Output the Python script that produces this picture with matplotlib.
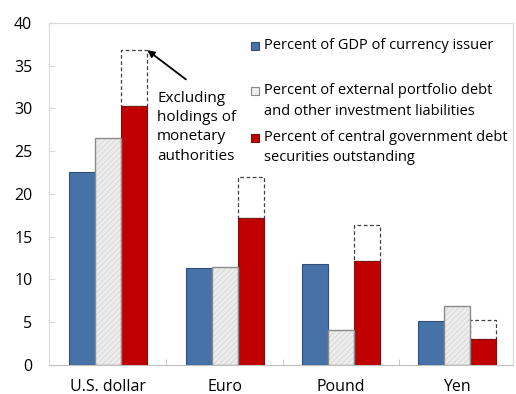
import numpy as np
import matplotlib.pyplot as plt
from matplotlib.patches import Rectangle

plt.rcParams['font.family'] = ['Open Sans', 'DejaVu Sans']
plt.rcParams['hatch.linewidth'] = 0.6

currencies = ['U.S. dollar', 'Euro', 'Pound', 'Yen']
pct_gdp = [22.6, 11.3, 11.8, 5.1]
pct_external = [26.5, 11.4, 4.1, 6.9]
pct_govt = [30.3, 17.2, 12.2, 3.0]
pct_govt_excl_monetary = [36.8, 22.0, 16.3, 5.3]

blue = '#4672A8'
red = '#C00000'
light = '#EDEDED'

fig = plt.figure(figsize=(5.16, 3.94), dpi=100)
ax = fig.add_axes([0.095, 0.074, 0.899, 0.868])

x = np.arange(len(currencies))
w = 0.224

ax.bar(x - w, pct_gdp, w, color=blue, edgecolor='#2F4F7A', linewidth=0.8, zorder=3)
# hatched fill, then outline on top
ax.bar(x, pct_external, w, color=light, edgecolor='#D4D4D4', hatch='//////', linewidth=0, zorder=3)
ax.bar(x, pct_external, w, fill=False, edgecolor='#8A8A8A', linewidth=1.0, zorder=4)
ax.bar(x + w, pct_govt, w, color=red, edgecolor='#7A1010', linewidth=0.8, zorder=3)
# dashed extension: excluding holdings of monetary authorities
extra = np.array(pct_govt_excl_monetary) - np.array(pct_govt)
ax.bar(x + w, extra, w, bottom=pct_govt, facecolor='white', edgecolor='#404040',
       linestyle=(0, (3, 2)), linewidth=0.9, zorder=2)

ax.set_xlim(-0.51, 3.48)
ax.set_ylim(0, 40)
ax.set_yticks(range(0, 41, 5))
ax.set_xticks(x)
ax.set_xticklabels(currencies)
ax.set_xticks(x[:-1] + 0.5, minor=True)
ax.tick_params(axis='x', which='major', length=0, pad=10, labelsize=11.5)
ax.tick_params(axis='x', which='minor', length=4, direction='in', color='#BFBFBF')
ax.tick_params(axis='y', length=4, direction='in', color='#D9D9D9', pad=12, labelsize=11.5)
for s in ['left', 'top', 'right']:
    ax.spines[s].set_color('#D9D9D9')
ax.spines['bottom'].set_color('#BFBFBF')

ax.annotate('Excluding\nholdings of\nmonetary\nauthorities',
            xy=(x[0] + w + w / 2, pct_govt_excl_monetary[0]),
            xytext=(0.42, 27.8), fontsize=11, va='center', ha='left',
            linespacing=1.4,
            arrowprops=dict(arrowstyle='-|>', color='black', lw=1.3,
                            mutation_scale=10, shrinkA=10, shrinkB=0,
                            relpos=(0.55, 1.0)))

# legend, drawn by hand so the swatches line up with the first text line
legend_rows = [
    (blue, '#2F4F7A', ['Percent of GDP of currency issuer'], 0.933),
    (light, '#8A8A8A', ['Percent of external portfolio debt',
                        'and other investment liabilities'], 0.801),
    (red, '#7A1010', ['Percent of central government debt',
                      'securities outstanding'], 0.664),
]
line_step = 0.059
for face, edge, lines, y0 in legend_rows:
    ax.add_patch(Rectangle((0.436, y0 - 0.012), 0.017, 0.024, transform=ax.transAxes,
                           facecolor=face, edgecolor=edge, linewidth=0.8,
                           clip_on=False, zorder=5))
    for i, line in enumerate(lines):
        ax.text(0.464, y0 - i * line_step, line, transform=ax.transAxes,
                fontsize=10.5, va='center', ha='left')

fig.savefig('out.png', dpi=100)
